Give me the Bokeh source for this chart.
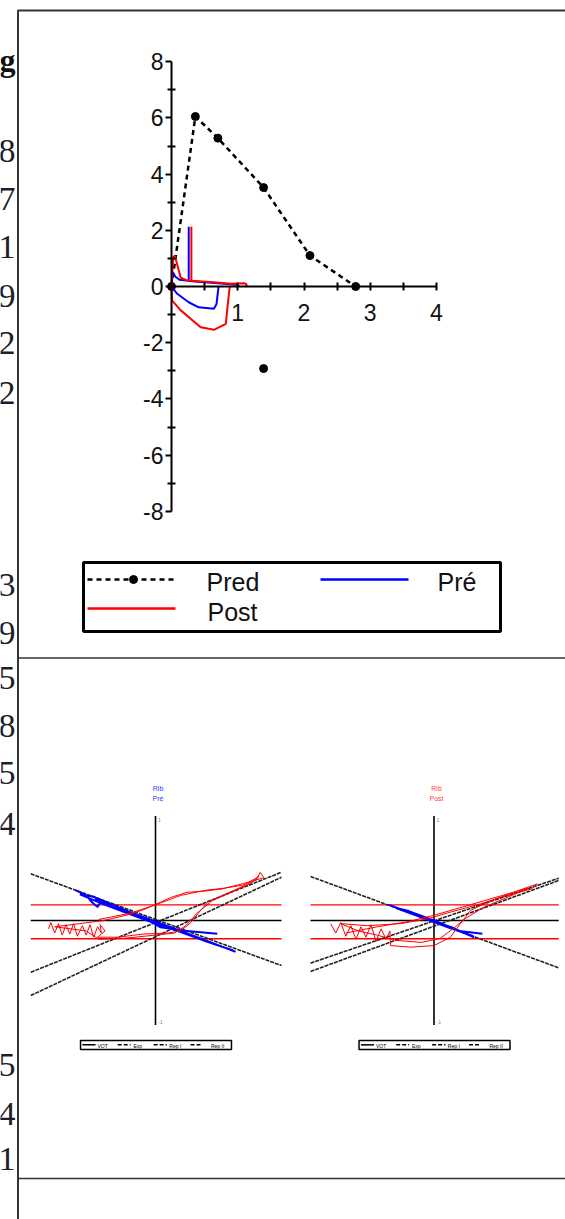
from bokeh.plotting import figure
from bokeh.models import LinearAxis, FixedTicker, Range1d
from bokeh.core.properties import value
from bokeh.embed import file_html
from bokeh.resources import INLINE

# ---------------- flow-volume loop (volume L, flow L/s) ----------------
pred_vol = [0.0, 0.36, 0.70, 1.39, 2.09, 2.78]
pred_flow = [0.0, 6.05, 5.28, 3.52, 1.10, 0.0]
pred_insp_vol = [1.39]
pred_insp_flow = [-2.92]

pre_vol = [0.0, 0.02, 0.06, 0.12, 0.26, 0.50, 0.80, 1.00, 1.02]
pre_flow = [0.0, 0.50, 0.35, 0.24, 0.20, 0.15, 0.10, 0.06, 0.0]
pre_spike_vol = [0.26, 0.26]
pre_spike_flow = [0.20, 2.13]
pre_insp_vol = [0.0, 0.086, 0.26, 0.41, 0.64, 0.68, 0.71]
pre_insp_flow = [0.0, -0.26, -0.56, -0.74, -0.79, -0.62, 0.0]

post_vol = [0.0, 0.025, 0.05, 0.11, 0.14, 0.24, 0.64, 0.89, 1.10, 1.14, 1.12, 1.14]
post_flow = [0.0, 1.04, 1.10, 0.57, 0.31, 0.21, 0.15, 0.10, 0.12, 0.06, 0.10, 0.0]
post_spike_vol = [0.30, 0.30]
post_spike_flow = [0.21, 2.13]
post_insp_vol = [0.0, 0.01, 0.14, 0.44, 0.64, 0.82, 0.85, 0.88]
post_insp_flow = [0.0, -0.50, -0.85, -1.45, -1.54, -1.33, -0.62, 0.0]

flow_ticks = [-8, -6, -4, -2, 0, 2, 4, 6, 8]
flow_minor = [-7, -5, -3, -1, 1, 3, 5, 7]
vol_ticks = [1, 2, 3, 4]
vol_minor = [0.5, 1.5, 2.5, 3.5]

legend_labels = ["Pred", "Pré", "Post"]

# ---------------- rib-cage loops ----------------
pre_ref_x = [-0.99, 1.0]
pre_ref_desc = [0.447, -0.431]
pre_ref_asc1 = [-0.495, 0.462]
pre_ref_asc2 = [-0.718, 0.414]

post_ref_x = [-0.98, 0.99]
post_ref_desc = [0.421, -0.453]
post_ref_asc1 = [-0.408, 0.405]
post_ref_asc2 = [-0.488, 0.383]

band_levels = [0.15, -0.175]

pre_blue = [(-0.635, 0.29), (-0.55, 0.24), (-0.50, 0.17), (-0.46, 0.13), (-0.44, 0.17),
            (-0.48, 0.20), (-0.42, 0.18), (-0.20, 0.08), (0.00, -0.01), (0.20, -0.10),
            (0.40, -0.19), (0.635, -0.30), (0.60, -0.28), (0.40, -0.20), (0.20, -0.11),
            (0.00, -0.03), (-0.20, 0.06), (-0.40, 0.15), (-0.60, 0.25), (-0.50, 0.23),
            (-0.30, 0.13), (-0.05, 0.00), (0.04, -0.065), (0.25, -0.10), (0.49, -0.127)]

pre_red = [(-0.85, -0.08), (-0.83, -0.02), (-0.80, -0.12), (-0.77, -0.03), (-0.74, -0.14),
           (-0.71, -0.04), (-0.68, -0.13), (-0.65, -0.03), (-0.62, -0.15), (-0.58, -0.05),
           (-0.55, -0.14), (-0.52, -0.04), (-0.49, -0.16), (-0.46, -0.06), (-0.43, -0.12),
           (-0.44, -0.04), (-0.40, -0.10), (-0.46, -0.16), (-0.30, -0.16), (-0.10, -0.13),
           (0.10, -0.12), (0.20, -0.10), (0.28, -0.02), (0.36, 0.10), (0.42, 0.18),
           (0.55, 0.25), (0.70, 0.33), (0.80, 0.39), (0.83, 0.46), (0.86, 0.41),
           (0.75, 0.37), (0.62, 0.33), (0.52, 0.30), (0.38, 0.28), (0.25, 0.27),
           (0.12, 0.22), (0.04, 0.175), (-0.08, 0.11), (-0.20, 0.06), (-0.41, 0.0),
           (-0.60, -0.03), (-0.80, -0.06), (-0.55, -0.10), (-0.45, -0.18), (-0.25, -0.17),
           (0.00, -0.14), (0.15, -0.12), (0.24, -0.05), (0.33, 0.07), (0.45, 0.19),
           (0.60, 0.27), (0.75, 0.35), (0.82, 0.42), (0.70, 0.34), (0.55, 0.31),
           (0.40, 0.29), (0.20, 0.24), (0.00, 0.15), (-0.20, 0.07), (-0.45, 0.01)]

post_blue = [(-0.357, 0.150), (-0.20, 0.08), (0.00, -0.01), (0.15, -0.07), (0.317, -0.160),
             (0.30, -0.145), (0.10, -0.06), (-0.10, 0.03), (-0.30, 0.12), (-0.20, 0.09),
             (0.00, 0.00), (0.20, -0.10), (0.384, -0.127)]

post_red = [(-0.82, -0.03), (-0.78, -0.12), (-0.74, -0.02), (-0.70, -0.15), (-0.66, -0.05),
            (-0.62, -0.18), (-0.58, -0.06), (-0.54, -0.16), (-0.50, -0.04), (-0.46, -0.20),
            (-0.42, -0.08), (-0.38, -0.18), (-0.35, -0.10), (-0.345, -0.24), (-0.185, -0.255),
            (0.00, -0.24), (0.13, -0.16), (0.21, -0.03), (0.29, 0.096), (0.42, 0.175),
            (0.63, 0.27), (0.82, 0.35), (0.77, 0.30), (0.58, 0.24), (0.37, 0.16),
            (0.13, 0.08), (-0.05, 0.016), (-0.265, -0.03), (-0.53, -0.05), (-0.74, -0.03),
            (-0.60, -0.10), (-0.45, -0.14), (-0.30, -0.19), (-0.10, -0.21), (0.05, -0.17),
            (0.15, -0.08), (0.25, 0.02), (0.40, 0.13), (0.60, 0.23), (0.75, 0.31),
            (0.60, 0.26), (0.40, 0.19), (0.20, 0.12), (0.00, 0.05), (-0.20, -0.01),
            (-0.45, -0.06), (-0.70, -0.12)]

small_legend_labels = ["VOT", "Exp", "Rep I", "Rep II"]

# clipped entries of the neighbouring table column
margin_text = ["8", "7", "1", "9", "2", "2", "3", "9", "5", "8", "5", "4", "5", "4", "1"]

# ---------------- page geometry (pixels) ----------------
PAGE_W, PAGE_H = 565, 1219
LINE_COL = "#333333"

AX_X0, PX_PER_L = 171.0, 66.25     # page x of volume 0, px per litre
AX_Y0, PX_PER_LS = 286.0, 28.1     # page y of flow 0, px per L/s
SMALL_CY, SMALL_SX, SMALL_SY = 920.0, 126.0, 104.5
S1_CX, S2_CX = 155.0, 433.5


def tx(px):
    return (px - AX_X0) / PX_PER_L


def ty(py):
    return (AX_Y0 - py) / PX_PER_LS


def small_sx(px, cx):
    return (px - cx) / SMALL_SX


def small_sy(py):
    return (SMALL_CY - py) / SMALL_SY


p = figure(width=PAGE_W, height=PAGE_H, x_range=Range1d(0, PAGE_W), y_range=Range1d(PAGE_H, 0),
           x_axis_type=None, y_axis_type=None, toolbar_location=None, min_border=0,
           outline_line_color=None, output_backend="svg")
p.extra_x_ranges = {
    "vol": Range1d(tx(0), tx(PAGE_W)),
    "s1x": Range1d(small_sx(0, S1_CX), small_sx(PAGE_W, S1_CX)),
    "s2x": Range1d(small_sx(0, S2_CX), small_sx(PAGE_W, S2_CX)),
}
p.extra_y_ranges = {
    "flow": Range1d(ty(PAGE_H), ty(0)),
    "sy": Range1d(small_sy(PAGE_H), small_sy(0)),
}

# ---------------- table rules and clipped margin column ----------------
p.segment(x0=[17.5], y0=[10], x1=[17.5], y1=[PAGE_H], line_color=LINE_COL, line_width=2)
p.segment(x0=[17, 17, 17], y0=[10, 657.5, 1178], x1=[PAGE_W] * 3, y1=[10, 657.5, 1178],
          line_color=LINE_COL, line_width=[2, 1.6, 1.6])
margin_mid = [150, 198, 246.5, 295, 342.5, 392.5, 584, 632.5, 677.5, 725, 772.5, 823.5, 1064, 1113.5, 1158.5]
p.text(x=[15] * len(margin_text), y=margin_mid, text=margin_text, text_align="right",
       text_baseline="middle", text_font=value("Liberation Serif"),
       text_font_size=value("34px"), text_color="#1e1e28")
p.text(x=[15], y=[59], text=["g"], text_align="right", text_baseline="middle",
       text_font=value("Liberation Serif"), text_font_size=value("32px"),
       text_font_style="bold", text_color="#111111")

# ---------------- flow-volume chart ----------------
yaxis = LinearAxis(x_range_name="vol", y_range_name="flow", fixed_location=0, bounds=(-8, 8),
                   ticker=FixedTicker(ticks=flow_ticks, minor_ticks=flow_minor))
xaxis = LinearAxis(x_range_name="vol", y_range_name="flow", fixed_location=0, bounds=(0, 4),
                   ticker=FixedTicker(ticks=vol_ticks, minor_ticks=vol_minor))
for ax in (xaxis, yaxis):
    ax.axis_line_width = 2
    ax.axis_line_color = "black"
    ax.major_tick_line_width = 2
    ax.minor_tick_line_width = 2
    ax.major_tick_line_color = "black"
    ax.minor_tick_line_color = "black"
    ax.major_label_text_font = "Liberation Sans"
    ax.major_label_text_font_size = "23px"
    ax.major_label_text_color = "#111111"
yaxis.major_label_overrides = {t: str(t) for t in flow_ticks}
yaxis.major_tick_in, yaxis.major_tick_out = 0, 6
yaxis.minor_tick_in, yaxis.minor_tick_out = 4, 4
yaxis.major_label_standoff = 2
xaxis.major_tick_in, xaxis.major_tick_out = 4, 4
xaxis.minor_tick_in, xaxis.minor_tick_out = 4, 4
xaxis.major_label_standoff = 13
p.add_layout(yaxis, "left")
p.add_layout(xaxis, "below")

fv = dict(x_range_name="vol", y_range_name="flow")
p.line(pred_vol, pred_flow, line_color="black", line_width=2.5, line_dash="5 4", **fv)
p.scatter(pred_vol, pred_flow, marker="circle", size=8, color="black", **fv)
p.scatter(pred_insp_vol, pred_insp_flow, marker="circle", size=8, color="black", **fv)

p.line(pre_vol, pre_flow, line_color="#0000ff", line_width=2, **fv)
p.line(pre_spike_vol, pre_spike_flow, line_color="#0000ff", line_width=2, **fv)
p.line(pre_insp_vol, pre_insp_flow, line_color="#0000ff", line_width=2, **fv)

p.line(post_vol, post_flow, line_color="#ff0000", line_width=2, **fv)
p.line(post_spike_vol, post_spike_flow, line_color="#ff0000", line_width=2, **fv)
p.line(post_insp_vol, post_insp_flow, line_color="#ff0000", line_width=2, **fv)

# legend box (page pixels)
p.quad(left=[83], right=[500], top=[562], bottom=[631], fill_color=None, line_color="black", line_width=3)
p.line([87, 175], [579, 579], line_color="black", line_width=2.5, line_dash="5 4")
p.scatter([133], [579], marker="circle", size=8, color="black")
p.line([320, 408], [579, 579], line_color="#0000ff", line_width=2.5)
p.line([87, 175], [608, 608], line_color="#ff0000", line_width=2.5)
p.text(x=[206, 437, 207], y=[581.5, 581.5, 611], text=legend_labels,
       text_align="left", text_baseline="middle", text_font=value("Liberation Sans"),
       text_font_size=value("25px"), text_color="#111111")


# ---------------- rib-cage loop panels ----------------
def small_panel(xr, title, title_color, ref_x, desc, asc1, asc2, blue, red):
    kw = dict(x_range_name=xr, y_range_name="sy")
    p.line([0, 0], [-1, 1], line_color="black", line_width=1.6, **kw)
    p.line(ref_x, [0, 0], line_color="black", line_width=1.6, **kw)
    for lvl in band_levels:
        p.line(ref_x, [lvl, lvl], line_color="#ff0000", line_width=1.4, **kw)
    for ys in (desc, asc1, asc2):
        p.line(ref_x, ys, line_color="#222222", line_width=1.6, line_dash="4 1", **kw)

    bx, by = zip(*blue)
    p.line(list(bx), list(by), line_color="#0000ff", line_width=2, **kw)
    rx, ry = zip(*red)
    p.line(list(rx), list(ry), line_color="#ff0000", line_width=1, **kw)

    p.text(x=[0.02, 0.02], y=[1.263, 1.167], text=title, text_align="center", text_baseline="middle",
           text_font=value("Liberation Sans"), text_font_size=value("7px"), text_color=title_color, **kw)
    p.text(x=[0.02, 0.02], y=[0.957, -0.976], text=["1", "-1"], text_align="left",
           text_baseline="middle", text_font=value("Liberation Sans"), text_font_size=value("5px"),
           text_color="#7080d0", **kw)

    # legend strip
    p.quad(left=[-0.595], right=[0.603], top=[-1.148], bottom=[-1.234],
           fill_color=None, line_color="black", line_width=1.5, **kw)
    seg_x0 = [-0.58, -0.30, -0.015, 0.278]
    seg_x1 = [-0.476, -0.198, 0.09, 0.37]
    dashes = ["solid", "4 2", "4 2", "4 2"]
    for a, b, d in zip(seg_x0, seg_x1, dashes):
        p.line([a, b], [-1.19, -1.19], line_color="black", line_width=1.5, line_dash=d, **kw)
    p.text(x=[-0.46, -0.175, 0.11, 0.44], y=[-1.197] * 4, text=small_legend_labels,
           text_align="left", text_baseline="middle", text_font=value("Liberation Sans"),
           text_font_size=value("5px"), text_color="black", **kw)


small_panel("s1x", ["Rib", "Pré"], "#3a3aff",
            pre_ref_x, pre_ref_desc, pre_ref_asc1, pre_ref_asc2, pre_blue, pre_red)
small_panel("s2x", ["Rib", "Post"], "#ff4040",
            post_ref_x, post_ref_desc, post_ref_asc1, post_ref_asc2, post_blue, post_red)

open("out.html", "w").write(file_html(p, INLINE))
